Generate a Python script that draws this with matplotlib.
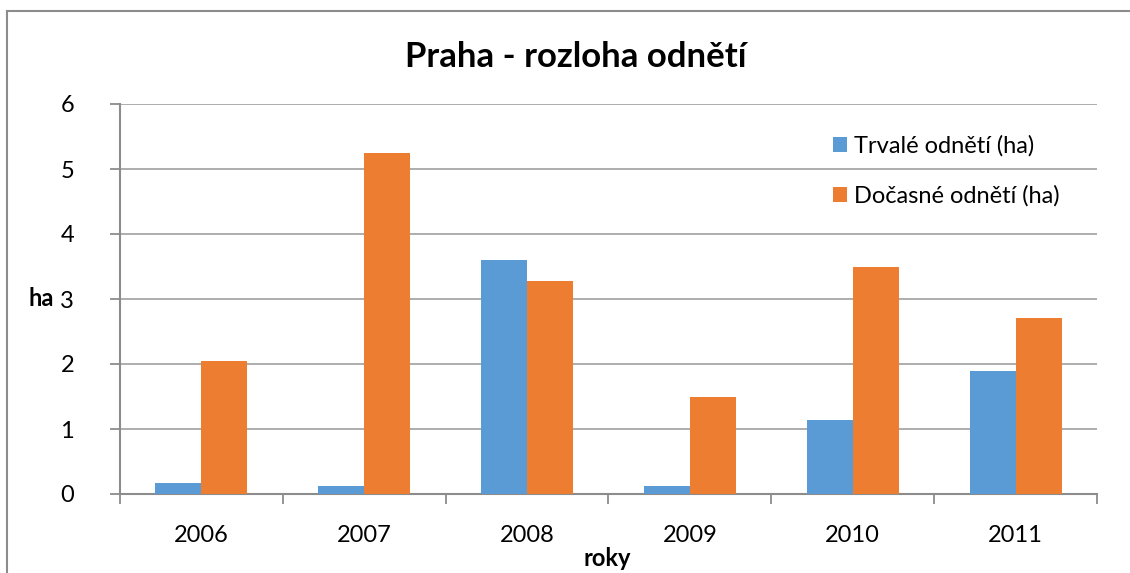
import matplotlib
matplotlib.use("Agg")
import matplotlib.pyplot as plt
import numpy as np
from matplotlib.lines import Line2D

years = ["2006", "2007", "2008", "2009", "2010", "2011"]
trvale = [0.17, 0.13, 3.60, 0.13, 1.14, 1.89]
docasne = [2.05, 5.25, 3.27, 1.49, 3.49, 2.71]
series_labels = ["Trvalé odnětí (ha)", "Dočasné odnětí (ha)"]
title = "Praha - rozloha odnětí"

plt.rcParams['font.family'] = ['Lato', 'DejaVu Sans']

W, H = 1130, 573
fig = plt.figure(figsize=(W/100, H/100), dpi=100)
ax = fig.add_axes([120/W, 1-494/H, (1097-120)/W, (494-104)/H])

x = np.arange(len(years))
w = 0.283
ax.bar(x - w/2, trvale, width=w, color="#5B9BD5", label=series_labels[0], zorder=3)
ax.bar(x + w/2, docasne, width=w, color="#ED7D31", label=series_labels[1], zorder=3)

ax.set_xlim(-0.5, len(years) - 0.5)
ax.set_ylim(0, 6)
ax.set_yticks(range(7))
ax.yaxis.grid(True, color="#A0A0A0", linewidth=1.2, zorder=0)
ax.set_axisbelow(True)

for s in ["top", "right"]:
    ax.spines[s].set_visible(False)
for s in ["left", "bottom"]:
    ax.spines[s].set_color("#8C8C8C")
    ax.spines[s].set_linewidth(1.5)

fs = 17
ax.set_xticks(np.arange(-0.5, len(years), 1.0))
ax.set_xticklabels([])
ax.set_xticks(x, minor=True)
ax.set_xticklabels(years, minor=True)
ax.tick_params(axis='x', which='major', length=7, width=1.3, color="#8C8C8C", direction='out')
ax.tick_params(axis='x', which='minor', length=0, pad=22, labelsize=fs)
ax.tick_params(axis='y', length=7, width=1.3, color="#8C8C8C", pad=26, labelsize=fs)

ax.set_xlabel("roky", fontsize=fs, fontweight='bold')
ax.xaxis.set_label_coords((607-120)/(1097-120), -(559-494)/(494-104))
ax.xaxis.label.set_va('center')
ax.set_ylabel("ha", fontsize=fs, fontweight='bold', rotation=0, va='center', ha='center')
ax.yaxis.set_label_coords(-(120-41)/(1097-120), (494-299)/(494-104))

fig.text(576/W, 1-57/H, title, ha='center', va='center', fontsize=25, fontweight='bold')

leg = ax.legend(loc='upper left', bbox_to_anchor=((833-120)/(1097-120), (494-135)/(494-104)),
                frameon=False, fontsize=fs, handlelength=0.6, handleheight=0.6,
                handletextpad=0.3, labelspacing=1.2, borderpad=0, borderaxespad=0)

fig.lines.append(Line2D([7/W, 7/W], [0, 1 - 11/H], transform=fig.transFigure,
                        color="#8C8C8C", linewidth=1.5))
fig.lines.append(Line2D([7/W, 1], [1 - 11/H, 1 - 11/H], transform=fig.transFigure,
                        color="#8C8C8C", linewidth=1.5))

fig.savefig("out.png", dpi=100)
